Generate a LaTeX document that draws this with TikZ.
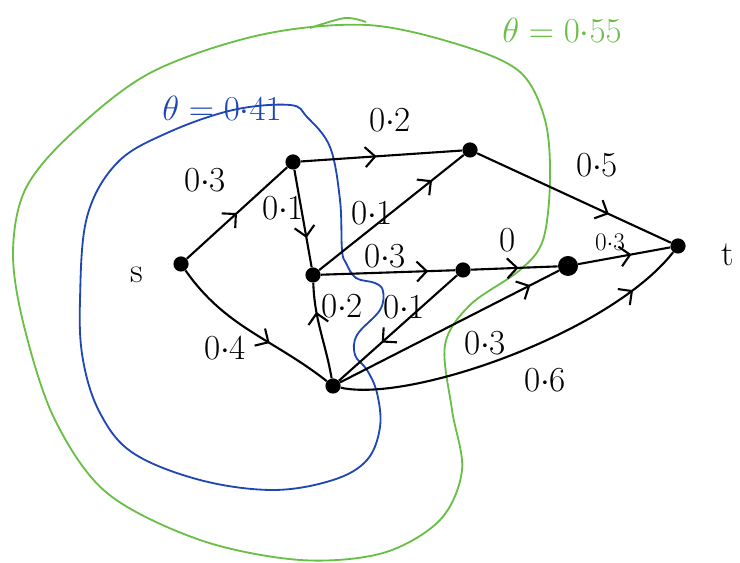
\documentclass[tikz,border=0pt]{standalone}
\usetikzlibrary{arrows.meta,decorations.markings}
\definecolor{cutblue}{RGB}{30,70,180}
\definecolor{cutgreen}{RGB}{105,190,70}

\begin{document}
\begin{tikzpicture}[x=0.025cm, y=0.025cm, every node/.style={font=\fontsize{25}{29}\selectfont},
  midarr/.style={postaction={decorate}, decoration={markings, mark=at position #1 with {\arrow{Straight Barb[length=2.5mm, width=5mm]}}}}]
\tikzstyle{vtx}=[circle, fill, inner sep=0pt, minimum size=3.8mm]
\tikzstyle{link}=[line width=1.5pt]
\tikzstyle{cutline}=[line width=1.3pt]
\tikzstyle{wt}=[inner sep=1pt]
\useasboundingbox (0,0) rectangle (740,563);

% cuts
\draw[cutline, cutblue] plot[smooth cycle, tension=0.6] coordinates {(290,458) (307,446) (330,416) (340,363) (342,313) (346,300) (356,285) (375,280) (383,272) (380,253) (357,228) (355,208) (367,193) (377,170) (380,136) (367,103) (333,83) (273,73) (200,83) (133,110) (100,150) (83,203) (80,263) (87,346) (117,400) (167,430) (233,453)};
\draw[cutline, cutgreen] plot[smooth cycle, tension=0.55] coordinates {(150,490) (260,528) (367,538) (460,518) (520,491) (545,443) (550,383) (543,323) (520,293) (470,258) (445,218) (452,153) (462,93) (440,43) (383,10) (300,3) (200,23) (107,70) (55,143) (25,233) (13,308) (25,373) (70,428)};
\draw[cutline, cutgreen] plot[smooth] coordinates {(310,535) (345,545) (366,541)};
\node[cutblue] (th1) at (222,455) {$\theta=0{\cdot}41$};
\node[cutgreen] (th2) at (562,533) {$\theta=0{\cdot}55$};

% vertices
\node[vtx] (s) at (181,299) {};
\node[vtx] (a) at (293,401) {};
\node[vtx] (b) at (470,413) {};
\node[vtx] (c) at (313,288) {};
\node[vtx] (d) at (463,293) {};
\node[vtx, minimum size=5mm] (e) at (568,297) {};
\node[vtx] (t) at (678,317) {};
\node[vtx] (f) at (333,177) {};
\node (ls) at (137,288) {s};
\node (lt) at (728,308) {t};

% edges
\draw[link, midarr=0.5] (s) -- (a);
\draw[link, midarr=0.62] (s) to[out=-55, in=142] (f);
\draw[link, midarr=0.47] (a) -- (b);
\draw[link, midarr=0.7] (a) -- (c);
\draw[link, midarr=0.78] (c) -- (b);
\draw[link, midarr=0.8] (c) -- (d);
\draw[link, midarr=0.64] (d) -- (f);
\draw[link, midarr=0.7] (f) to[out=100, in=-88] (c);
\draw[link, midarr=0.55] (d) -- (e);
\draw[link, midarr=0.58] (e) -- (t);
\draw[link, midarr=0.68] (b) -- (t);
\draw[link, midarr=0.87] (f) -- (e);
\draw[link, midarr=0.85] (f) .. controls (410,160) and (610,230) .. (t);

% weights
\node[wt] (w1) at (205,383) {0$\cdot$3};
\node[wt] (w2) at (283,355) {0$\cdot$1};
\node[wt] (w3) at (390,443) {0$\cdot$2};
\node[wt] (w4) at (372,350) {0$\cdot$1};
\node[wt] (w5) at (385,307) {0$\cdot$3};
\node[wt] (w6) at (342,257) {0$\cdot$2};
\node[wt] (w7) at (404,256) {0$\cdot$1};
\node[wt] (w8) at (225,215) {0$\cdot$4};
\node[wt] (w9) at (508,323) {0};
\node[wt] (w10) at (597,398) {0$\cdot$5};
\node[wt, font=\fontsize{18}{22}\selectfont] (w11) at (610,321) {0$\cdot$3};
\node[wt] (w12) at (485,220) {0$\cdot$3};
\node[wt] (w13) at (545,183) {0$\cdot$6};
\end{tikzpicture}
\end{document}
